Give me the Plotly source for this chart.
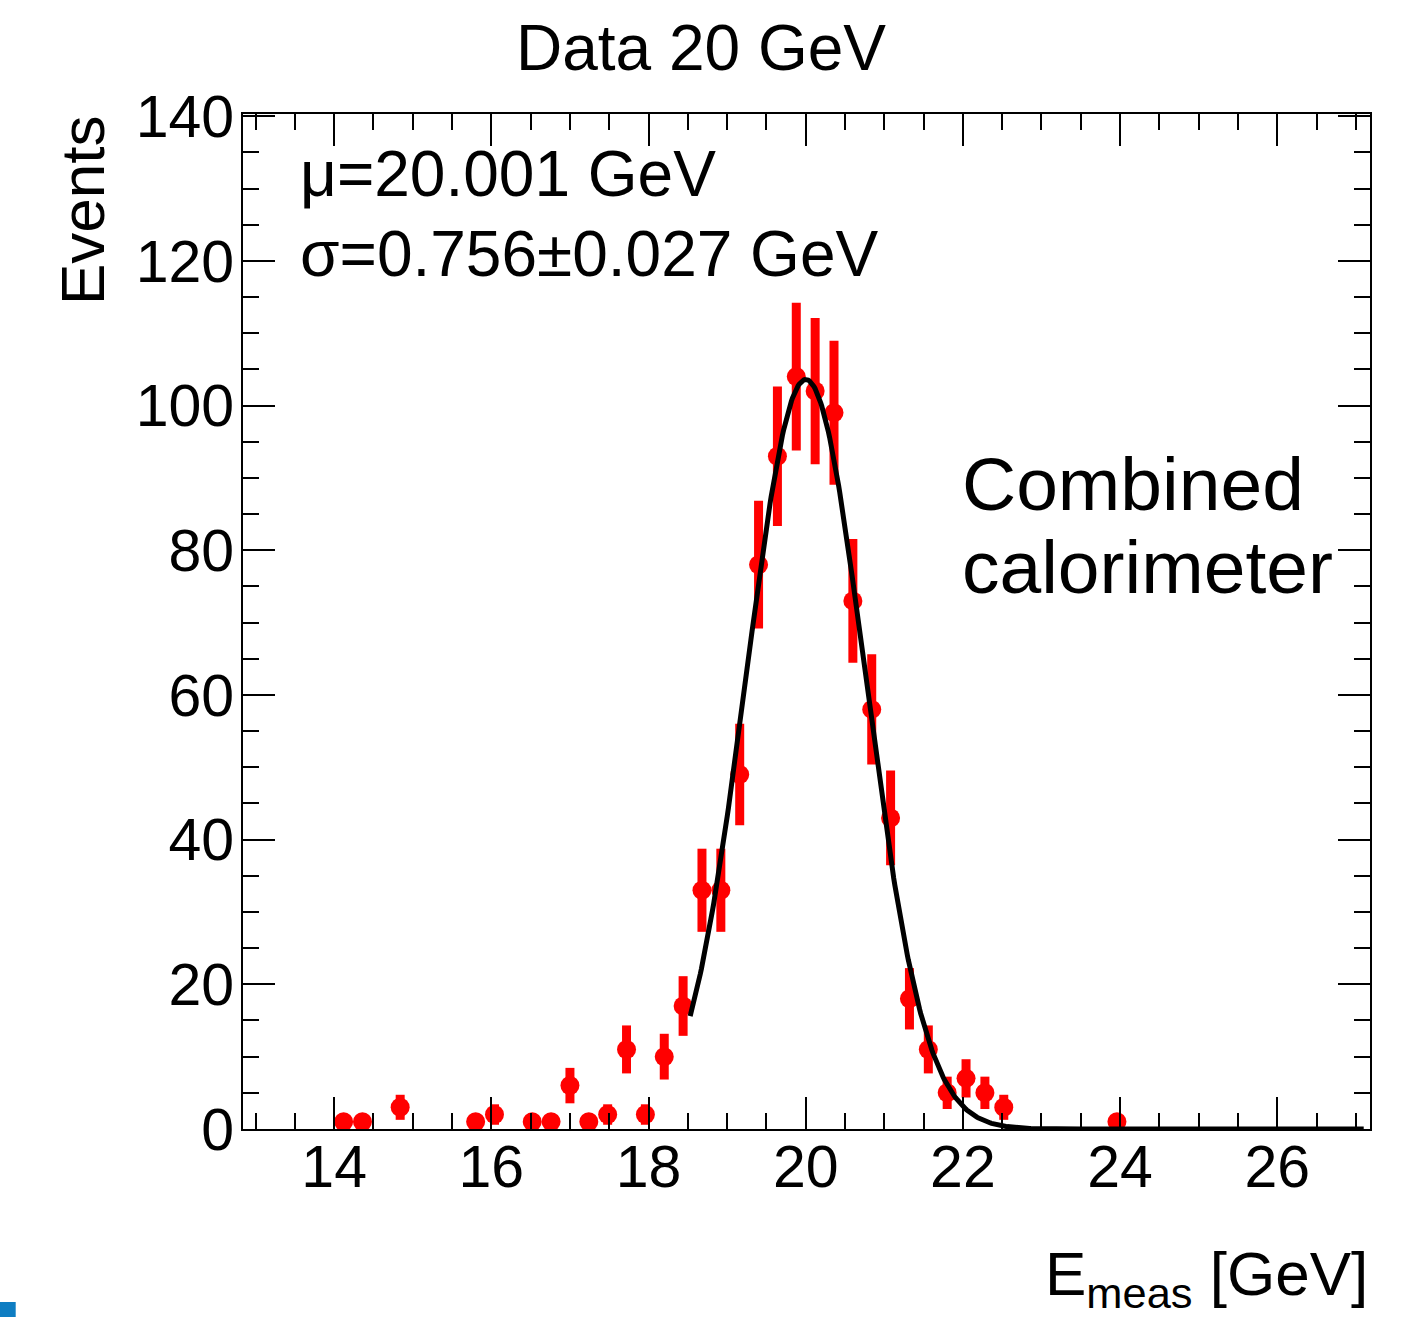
import numpy as np
import plotly.graph_objects as go

# ---- data ----
bin_centers = [14.12, 14.36, 14.84, 15.80, 16.04, 16.52, 16.76, 17.00, 17.24, 17.48,
               17.72, 17.96, 18.20, 18.44, 18.68, 18.92, 19.16, 19.40, 19.64, 19.88,
               20.12, 20.36, 20.60, 20.84, 21.08, 21.32, 21.56, 21.80, 22.04, 22.28,
               22.52, 23.96]
counts = [1, 1, 3, 1, 2, 1, 1, 6, 1, 2,
          11, 2, 10, 17, 33, 33, 49, 78, 93, 104,
          102, 99, 73, 58, 43, 18, 11, 5, 7, 5,
          3, 1]
errors = [float(np.sqrt(c)) for c in counts]

fit_mu = 20.001
fit_sigma = 0.756
fit_amp = 103.6
fit_xmin = 18.53
fit_xmax = 27.10

x_tickvals = [14, 16, 18, 20, 22, 24, 26]
y_tickvals = [0, 20, 40, 60, 80, 100, 120, 140]

FONT = "Liberation Sans, Arial, Helvetica, sans-serif"

fx = np.linspace(fit_xmin, fit_xmax, 600)
fy = fit_amp * np.exp(-0.5 * ((fx - fit_mu) / fit_sigma) ** 2)

fig = go.Figure()
fig.add_trace(go.Scatter(
    x=bin_centers, y=counts, mode="markers",
    marker=dict(color="#ff0000", size=19, symbol="circle"),
    error_y=dict(type="data", array=errors, visible=True, color="#ff0000",
                 thickness=9, width=0),
    showlegend=False, hoverinfo="skip"))
fig.add_trace(go.Scatter(
    x=fx, y=fy, mode="lines", line=dict(color="black", width=5),
    showlegend=False, hoverinfo="skip"))

W, H = 1420, 1317
L, R, T, B = 243, 1370, 114, 1129
PW, PH = R - L, B - T

def px(xp):
    return (xp - L) / PW

def py(yp):
    return (B - yp) / PH

fig.update_layout(
    width=W, height=H,
    margin=dict(l=L, r=W - R, t=T, b=H - B, pad=0),
    paper_bgcolor="white", plot_bgcolor="white",
    font=dict(family=FONT, color="black"),
)

axis_common = dict(
    showgrid=False, zeroline=False, showline=True, linecolor="black", linewidth=2,
    mirror="ticks", ticks="inside", ticklen=32, tickwidth=2, tickcolor="black",
    tickfont=dict(family=FONT, size=59, color="black"),
)
fig.update_xaxes(range=[12.84, 27.18], tickvals=x_tickvals, ticklabelstandoff=-15,
                 minor=dict(dtick=0.5, tick0=14, ticks="inside", ticklen=16,
                            tickwidth=2, tickcolor="black"),
                 **axis_common)
fig.update_yaxes(range=[0, 140.3], tickvals=y_tickvals, ticklabelstandoff=-5,
                 minor=dict(dtick=5, tick0=0, ticks="inside", ticklen=16,
                            tickwidth=2, tickcolor="black"),
                 **axis_common)

ann = [
    dict(text="Data 20 GeV", x=px(701), y=py(48), xanchor="center", yanchor="middle",
         font=dict(size=64)),
    dict(text="μ=20.001 GeV", x=px(298), y=py(174), xanchor="left", yanchor="middle",
         font=dict(size=64)),
    dict(text="σ=0.756±0.027 GeV", x=px(298), y=py(254), xanchor="left", yanchor="middle",
         font=dict(size=64)),
    dict(text="Combined", x=px(960), y=py(484), xanchor="left", yanchor="middle",
         font=dict(size=75)),
    dict(text="calorimeter", x=px(960), y=py(567), xanchor="left", yanchor="middle",
         font=dict(size=75)),
    dict(text="Events", x=px(83), y=py(210), xanchor="center", yanchor="middle",
         textangle=-90, font=dict(size=62)),
    dict(text="E<sub>meas</sub> [GeV]", x=px(1370), y=py(1278), xanchor="right",
         yanchor="middle", font=dict(size=62)),
]
for a in ann:
    a.update(xref="paper", yref="paper", showarrow=False)
    a["font"].update(family=FONT, color="black")
fig.update_layout(annotations=ann)

fig.add_shape(type="rect", xref="paper", yref="paper",
              x0=px(0), x1=px(15.7), y0=py(1317), y1=py(1302),
              fillcolor="#0e7dc2", line=dict(width=0))

fig.write_html("out.html")
